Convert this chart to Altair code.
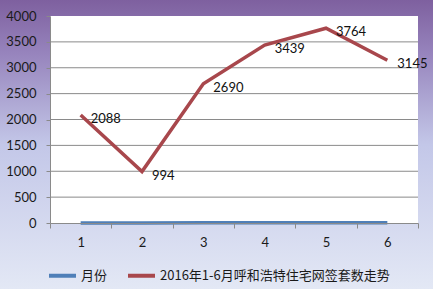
import altair as alt
import pandas as pd

months = [1, 2, 3, 4, 5, 6]
sales = [2088, 994, 2690, 3439, 3764, 3145]
series_names = ["月份", "2016年1-6月呼和浩特住宅网签套数走势"]
series_colors = ["#4f7fb8", "#a8474c"]
grid_values = [500, 1000, 1500, 2000, 2500, 3000, 3500]
y_ticks = [0, 500, 1000, 1500, 2000, 2500, 3000, 3500, 4000]

W, H = 368, 207
PAD = {"left": 50, "top": 16, "right": 15, "bottom": 66}

rows = []
for m in months:
    rows.append({"month": m, "value": m, "series": series_names[0]})
for m, v in zip(months, sales):
    rows.append({"month": m, "value": v, "series": series_names[1]})
df = pd.DataFrame(rows)
red_df = pd.DataFrame({"month": months, "value": sales})
grid_df = pd.DataFrame({"g": grid_values})
one = pd.DataFrame({"a": [0]})

xscale = alt.Scale(type="band", domain=months, paddingInner=0, paddingOuter=0)
yscale = alt.Scale(domain=[0, 4000], nice=False)

xaxis = alt.Axis(labelAngle=0, tickBand="extent", zindex=1,
                 domainColor="#8a8a8a", tickColor="#8a8a8a",
                 tickSize=5, labelPadding=8, labelFontSize=13,
                 labelFont="Lato", labelColor="#1a1a1a", grid=False)
yaxis = alt.Axis(values=y_ticks, format="d", grid=False, zindex=1,
                 domainColor="#8a8a8a", tickColor="#8a8a8a", tickSize=4,
                 labelPadding=10, labelFontSize=13, labelFont="Lato",
                 labelColor="#1a1a1a")

grad = alt.Gradient(
    gradient="linear", x1=0, x2=0, y1=0, y2=1,
    stops=[
        alt.GradientStop(color="#7e609f", offset=0),
        alt.GradientStop(color="#9683bc", offset=0.18),
        alt.GradientStop(color="#c3c7e8", offset=0.5),
        alt.GradientStop(color="#e3e8f5", offset=1),
    ],
)

bg = alt.Chart(one).mark_rect(color=grad).encode(
    x=alt.value(-PAD["left"]), x2=alt.value(W + PAD["right"]),
    y=alt.value(-PAD["top"]), y2=alt.value(H + PAD["bottom"]),
)
plot_bg = alt.Chart(one).mark_rect(color="white").encode(
    x=alt.value(0), x2=alt.value(W), y=alt.value(0), y2=alt.value(H),
)
grid = alt.Chart(grid_df).mark_rule(color="#8a8a8a", strokeWidth=1).encode(
    x=alt.value(0), x2=alt.value(W),
    y=alt.Y("g:Q", scale=yscale, axis=yaxis, title=None),
)

lines = alt.Chart(df).mark_line(strokeWidth=3.5).encode(
    x=alt.X("month:O", scale=xscale, bandPosition=0.5, title=None, axis=xaxis),
    y=alt.Y("value:Q", scale=yscale, title=None, axis=yaxis),
    color=alt.Color("series:N",
                    scale=alt.Scale(domain=series_names, range=series_colors),
                    legend=alt.Legend(title=None, orient="none", direction="horizontal",
                                      legendX=-3, legendY=244,
                                      symbolType="stroke", symbolSize=729,
                                      symbolStrokeWidth=4, columnPadding=12,
                                      labelOffset=3, labelFontSize=13,
                                      labelLimit=400,
                                      labelFont="Noto Sans CJK SC",
                                      labelColor="#1a1a1a", zindex=1)),
    detail="series:N",
)

labels = alt.Chart(red_df).mark_text(
    align="left", baseline="middle", dx=10, dy=4, fontSize=13,
    font="Lato", color="#111111",
).encode(
    x=alt.X("month:O", scale=xscale, bandPosition=0.5, title=None, axis=xaxis),
    y=alt.Y("value:Q", scale=yscale, title=None, axis=yaxis),
    text=alt.Text("value:Q"),
)

chart = alt.layer(bg, plot_bg, grid, lines, labels).properties(
    width=W, height=H,
    autosize=alt.AutoSizeParams(type="none"),
    padding=PAD,
).configure_view(stroke=None)

chart.save("out.html", embed_options={"renderer": "svg", "actions": False})
